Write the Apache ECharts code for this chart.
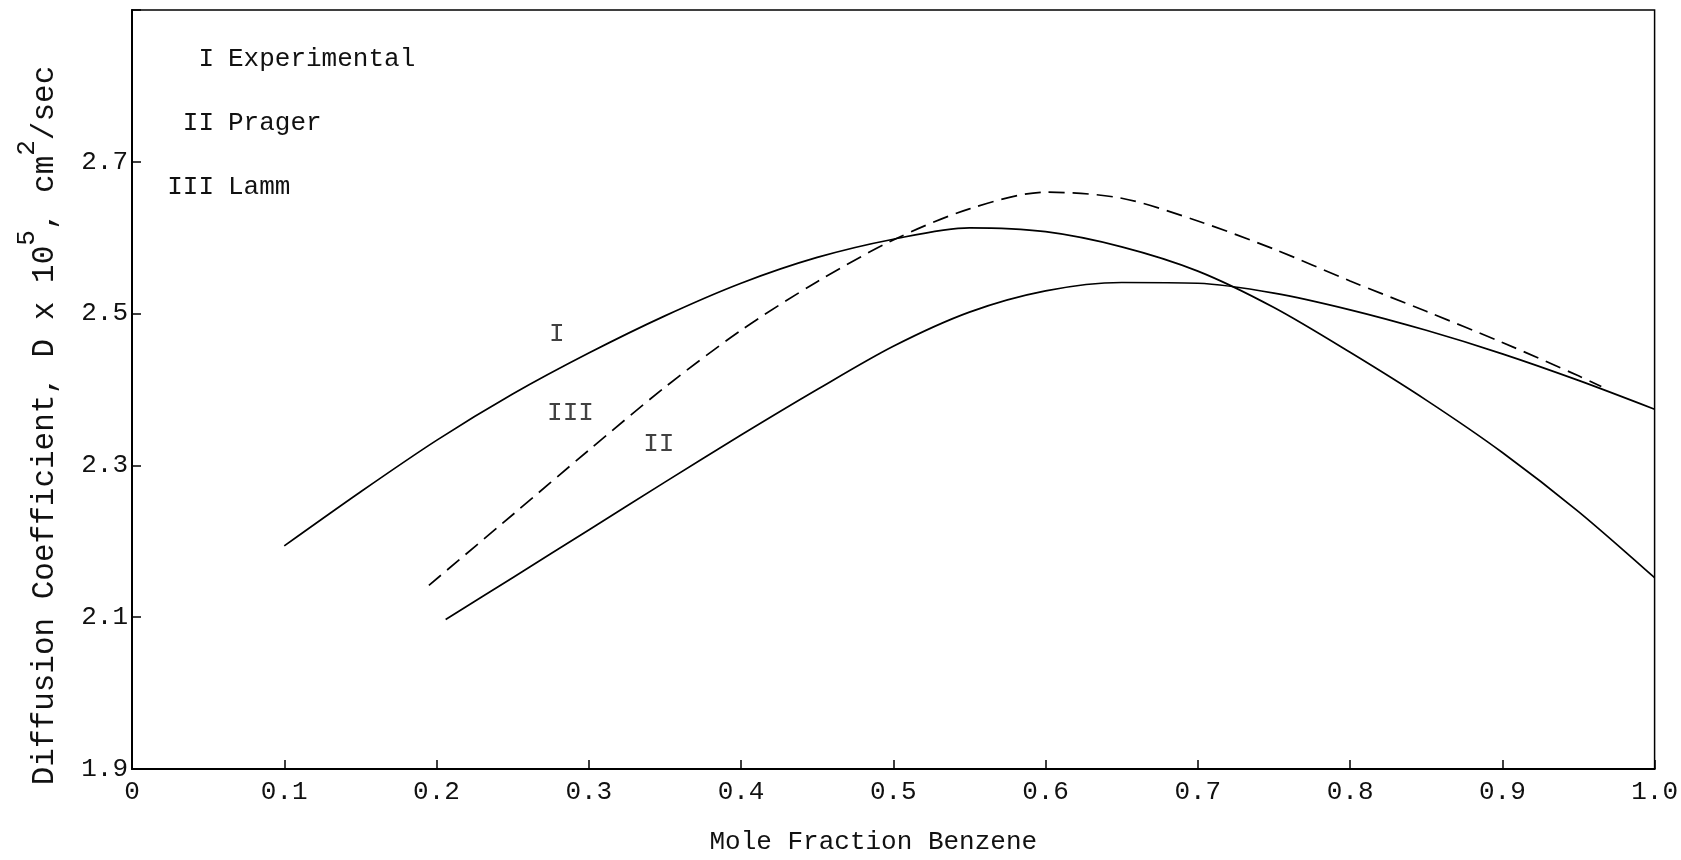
<!DOCTYPE html>
<html>
<head>
<meta charset="utf-8">
<title>Diffusion coefficient vs mole fraction benzene</title>
<script src="https://cdn.jsdelivr.net/npm/echarts@6/dist/echarts.min.js"></script>
<style>
  html, body { margin: 0; padding: 0; background: #fff; }
  #main { width: 1681px; height: 860px; }
</style>
</head>
<body>
<div id="main"></div>
<script>
// curve I - experimental
const expX = [0.10, 0.15, 0.20, 0.25, 0.30, 0.35, 0.40, 0.45, 0.50, 0.55, 0.60, 0.65, 0.70, 0.75, 0.80, 0.85, 0.90, 0.95, 1.00];
const expY = [2.194, 2.265, 2.333, 2.394, 2.448, 2.497, 2.540, 2.574, 2.598, 2.613, 2.608, 2.588, 2.556, 2.508, 2.449, 2.386, 2.317, 2.239, 2.152];

// curve II - Prager
const pragerX = [0.206, 0.25, 0.30, 0.35, 0.40, 0.45, 0.50, 0.55, 0.60, 0.65, 0.70, 0.75, 0.80, 0.85, 0.90, 0.95, 1.00];
const pragerY = [2.097, 2.152, 2.215, 2.278, 2.340, 2.400, 2.457, 2.502, 2.530, 2.541, 2.540, 2.527, 2.505, 2.478, 2.447, 2.412, 2.374];

// curve III - Lamm (dashed)
const lammX = [0.195, 0.25, 0.30, 0.35, 0.40, 0.45, 0.50, 0.55, 0.60, 0.65, 0.70, 0.75, 0.80, 0.85, 0.90, 0.95, 0.965];
const lammY = [2.142, 2.235, 2.320, 2.403, 2.478, 2.542, 2.597, 2.638, 2.660, 2.652, 2.622, 2.585, 2.543, 2.503, 2.462, 2.418, 2.404];

// roman numeral tags next to the curves
const tagNames = ['I', 'III', 'II'];
const tagX = [0.279, 0.288, 0.346];
const tagY = [2.473, 2.369, 2.328];

// key in the top-left corner
const keyNums = ['I', 'II', 'III'];
const keyNames = ['Experimental', 'Prager', 'Lamm'];

const FONT = '"Liberation Mono", "DejaVu Sans Mono", monospace';

function pairs(xs, ys) {
  return xs.map((x, i) => [x, ys[i]]);
}

const chart = echarts.init(document.getElementById('main'), null, { renderer: 'canvas' });

const lineStyle = { color: '#000', width: 1.7 };

const keyGraphics = [];
keyNums.forEach((n, i) => {
  const y = 59 + i * 64;
  keyGraphics.push({
    type: 'text', x: 214, y: y,
    style: { text: n, font: '26px ' + FONT, fill: '#111', align: 'right', verticalAlign: 'middle' }
  });
  keyGraphics.push({
    type: 'text', x: 228, y: y,
    style: { text: keyNames[i], font: '26px ' + FONT, fill: '#111', align: 'left', verticalAlign: 'middle' }
  });
});

const option = {
  animation: false,
  backgroundColor: '#fff',
  grid: {
    left: 132, right: 25, top: 10, bottom: 88,
    show: true, borderColor: '#000', borderWidth: 1.5, backgroundColor: 'transparent'
  },
  xAxis: {
    type: 'value',
    min: 0, max: 1, interval: 0.1,
    name: 'Mole Fraction Benzene',
    nameLocation: 'middle',
    nameGap: 60,
    nameTextStyle: { fontFamily: FONT, fontSize: 26, color: '#111', padding: [0, 40, 0, 0] },
    axisLine: { lineStyle: { color: '#000', width: 2 } },
    axisTick: { inside: true, length: 9, lineStyle: { color: '#000', width: 1.5 } },
    axisLabel: {
      fontFamily: FONT, fontSize: 26, color: '#111', margin: 10,
      formatter: v => (v === 0 ? '0' : v.toFixed(1))
    },
    splitLine: { show: false }
  },
  yAxis: {
    type: 'value',
    min: 1.9, max: 2.9, interval: 0.2,
    name: '{n|Diffusion Coefficient, D x 10}{s|5}{n|, cm}{s|2}{n|/sec}',
    nameLocation: 'middle',
    nameGap: 72,
    nameRotate: 90,
    nameTextStyle: {
      padding: [0, 72, 0, 0],
      rich: {
        n: { fontFamily: FONT, fontSize: 31, color: '#111', lineHeight: 46, verticalAlign: 'bottom' },
        s: { fontFamily: FONT, fontSize: 26, color: '#111', lineHeight: 46, verticalAlign: 'top' }
      }
    },
    axisLine: { lineStyle: { color: '#000', width: 2 } },
    axisTick: { inside: true, length: 9, lineStyle: { color: '#000', width: 1.5 } },
    axisLabel: {
      fontFamily: FONT, fontSize: 26, color: '#111', margin: 4,
      formatter: v => (v > 2.85 ? '' : v.toFixed(1))
    },
    splitLine: { show: false }
  },
  graphic: keyGraphics,
  series: [
    {
      name: 'I Experimental', type: 'line', smooth: 0.3, symbol: 'none',
      data: pairs(expX, expY), lineStyle: lineStyle
    },
    {
      name: 'II Prager', type: 'line', smooth: 0.3, symbol: 'none',
      data: pairs(pragerX, pragerY), lineStyle: lineStyle
    },
    {
      name: 'III Lamm', type: 'line', smooth: 0.3, symbol: 'none',
      data: pairs(lammX, lammY),
      lineStyle: { color: '#000', width: 1.7, type: [16, 8] }
    },
    {
      type: 'scatter', symbolSize: 1,
      itemStyle: { color: 'rgba(0,0,0,0)' },
      data: tagNames.map((t, i) => ({ name: t, value: [tagX[i], tagY[i]] })),
      label: {
        show: true, position: 'inside', formatter: p => p.name,
        fontFamily: FONT, fontSize: 26, color: '#111'
      }
    }
  ]
};

chart.setOption(option);
</script>
</body>
</html>
